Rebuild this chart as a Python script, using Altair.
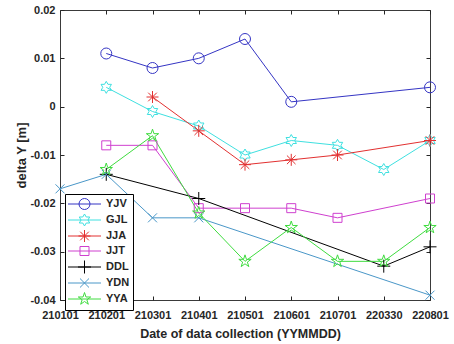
import math
import altair as alt
import pandas as pd

# Survey epochs (YYMMDD) and the Y displacement of each station [m]
dates = ["210101", "210201", "210301", "210401", "210501",
         "210601", "210701", "220330", "220801"]
sites = ["YJV", "GJL", "JJA", "JJT", "DDL", "YDN", "YYA"]

YJV = [None, 0.011, 0.008, 0.010, 0.014, 0.001, None, None, 0.004]
GJL = [None, 0.004, -0.001, -0.004, -0.010, -0.007, -0.008, -0.013, -0.007]
JJA = [None, None, 0.002, -0.005, -0.012, -0.011, -0.010, None, -0.007]
JJT = [None, -0.008, -0.008, -0.021, -0.021, -0.021, -0.023, None, -0.019]
DDL = [None, -0.014, None, -0.019, None, None, None, -0.033, -0.029]
YDN = [-0.017, -0.014, -0.023, -0.023, None, None, None, None, -0.039]
YYA = [None, -0.013, -0.006, -0.022, -0.032, -0.025, -0.032, -0.032, -0.025]

y_ticks = [-0.04, -0.03, -0.02, -0.01, 0.0, 0.01, 0.02]

colors = ["#3535c4", "#3fe0e0", "#e23030", "#cf40cf", "#000000", "#4a97c8", "#3fdc3f"]
kinds = ["circle", "hexagram", "asterisk", "square", "plus", "x", "pentagram"]

series = dict(zip(sites, [YJV, GJL, JJA, JJT, DDL, YDN, YYA]))
rows = []
for s in sites:
    for d, v in zip(dates, series[s]):
        if v is not None:
            rows.append({"date": d, "site": s, "dy": v})
df = pd.DataFrame(rows)


def fmt(v):
    return f"{v:.3f}".rstrip("0").rstrip(".")


def marker(kind, unit, dx=0.0):
    """Outline of a MATLAB-style marker as an SVG path in symbol units."""
    def P(x, y):
        return f"{fmt(x / unit + dx)},{fmt(y / unit)}"

    if kind == "circle":
        r = 5.5
        return (f"M{P(r, 0)}A{fmt(r / unit)},{fmt(r / unit)} 0 1,1 {P(-r, 0)}"
                f"A{fmt(r / unit)},{fmt(r / unit)} 0 1,1 {P(r, 0)}Z")
    if kind == "square":
        h = 4.5
        return f"M{P(-h, -h)}L{P(h, -h)}L{P(h, h)}L{P(-h, h)}Z"
    if kind == "plus":
        h = 6.5
        return f"M{P(-h, 0)}L{P(h, 0)}M{P(0, -h)}L{P(0, h)}"
    if kind == "x":
        h = 4.5
        return f"M{P(-h, -h)}L{P(h, h)}M{P(-h, h)}L{P(h, -h)}"
    if kind == "asterisk":
        h, d = 6.0, 4.3
        return (f"M{P(-h, 0)}L{P(h, 0)}M{P(0, -h)}L{P(0, h)}"
                f"M{P(-d, -d)}L{P(d, d)}M{P(-d, d)}L{P(d, -d)}")
    if kind in ("hexagram", "pentagram"):
        n = 6 if kind == "hexagram" else 5
        R = 6.0 if n == 6 else 6.5
        ri = R / math.sqrt(3) if n == 6 else R * 0.382
        pts = []
        for i in range(2 * n):
            a = -math.pi / 2 + i * math.pi / n
            rr = R if i % 2 == 0 else ri
            pts.append(P(rr * math.cos(a), rr * math.sin(a)))
        return "M" + "L".join(pts) + "Z"
    return ""


# plot markers: symbol size 100 -> 5 px per unit
PLOT_SIZE = 100
plot_unit = math.sqrt(PLOT_SIZE) / 2
plot_shapes = [marker(k, plot_unit) for k in kinds]

# legend entries: a short line with the marker in its middle
LEG_SIZE = 169
leg_unit = math.sqrt(LEG_SIZE) / 2
leg_shapes = []
for k in kinds:
    line = f"M{fmt(-7 / leg_unit)},0L{fmt(26 / leg_unit)},0"
    leg_shapes.append(line + marker(k, leg_unit, dx=9.5 / leg_unit))

FONT = "Liberation Sans"
TXT = "#262626"

x_scale = alt.Scale(type="point", domain=dates, padding=0)
y_scale = alt.Scale(domain=[-0.04, 0.02], nice=False, zero=False)
label_expr = "datum.value == 0 ? '0' : toString(round(datum.value * 100) / 100)"

base = alt.Chart(df)

lines = base.mark_line(strokeWidth=1).encode(
    x=alt.X("date:O", scale=x_scale, sort=dates,
            axis=alt.Axis(orient="bottom", title="Date of data collection (YYMMDD)",
                          offset=-4, tickSize=4, domain=False, grid=False,
                          labelAngle=0, labelPadding=9, labelFontSize=11,
                          labelFontWeight="bold", labelColor=TXT, tickColor=TXT,
                          titleFontSize=12.5, titleFontWeight="bold", titleColor=TXT,
                          titlePadding=7, titleX=180, labelFont=FONT, titleFont=FONT)),
    y=alt.Y("dy:Q", scale=y_scale,
            axis=alt.Axis(orient="left", title="delta Y [m]", values=y_ticks,
                          labelExpr=label_expr, offset=-4, tickSize=4,
                          domain=False, grid=False, labelPadding=5,
                          labelFontSize=11, labelFontWeight="bold",
                          labelColor=TXT, tickColor=TXT, titleFontSize=13,
                          titleFontWeight="bold", titleColor=TXT, titlePadding=1,
                          labelFont=FONT, titleFont=FONT)),
    color=alt.Color("site:N", scale=alt.Scale(domain=sites, range=colors), legend=None),
    detail="site:N",
)

points = base.mark_point(filled=False, strokeWidth=1, size=PLOT_SIZE, opacity=1).encode(
    x=alt.X("date:O", scale=x_scale, sort=dates, axis=None),
    y=alt.Y("dy:Q", scale=y_scale, axis=None),
    color=alt.Color("site:N", scale=alt.Scale(domain=sites, range=colors), legend=None),
    shape=alt.Shape("site:N", scale=alt.Scale(domain=sites, range=plot_shapes), legend=None),
)

leg = alt.Legend(title=None, orient="none", legendX=5, legendY=184,
                 strokeColor="#000000", fillColor="white", padding=3,
                 rowPadding=0, symbolSize=LEG_SIZE, symbolStrokeWidth=1,
                 labelOffset=24, labelFont=FONT, labelFontSize=11,
                 labelFontWeight="bold", labelColor=TXT, symbolOpacity=1)

# top/right tick marks and the legend entries
frame = base.mark_point(filled=False, strokeWidth=1, size=LEG_SIZE).encode(
    x=alt.X("date:O", scale=x_scale, sort=dates,
            axis=alt.Axis(orient="top", labels=False, title=None, offset=-4,
                          tickSize=4, domain=False, grid=False, tickColor=TXT)),
    y=alt.Y("dy:Q", scale=y_scale,
            axis=alt.Axis(orient="right", labels=False, title=None, values=y_ticks,
                          offset=-4, tickSize=4, domain=False, grid=False,
                          tickColor=TXT)),
    color=alt.Color("site:N", scale=alt.Scale(domain=sites, range=colors), legend=leg),
    shape=alt.Shape("site:N", scale=alt.Scale(domain=sites, range=leg_shapes), legend=leg),
).transform_filter("false")

chart = alt.layer(lines, points, frame).resolve_scale(
    x="independent", y="independent", color="independent", shape="independent"
).resolve_axis(
    x="independent", y="independent"
).properties(
    width=370, height=290,
    padding={"left": 60, "top": 10, "right": 24, "bottom": 44},
    autosize=alt.AutoSizeParams(type="none"),
    background="white",
).configure_view(stroke="#3a3a3a", strokeWidth=1)

chart.save("out.html", embed_options={"renderer": "svg", "actions": False})
